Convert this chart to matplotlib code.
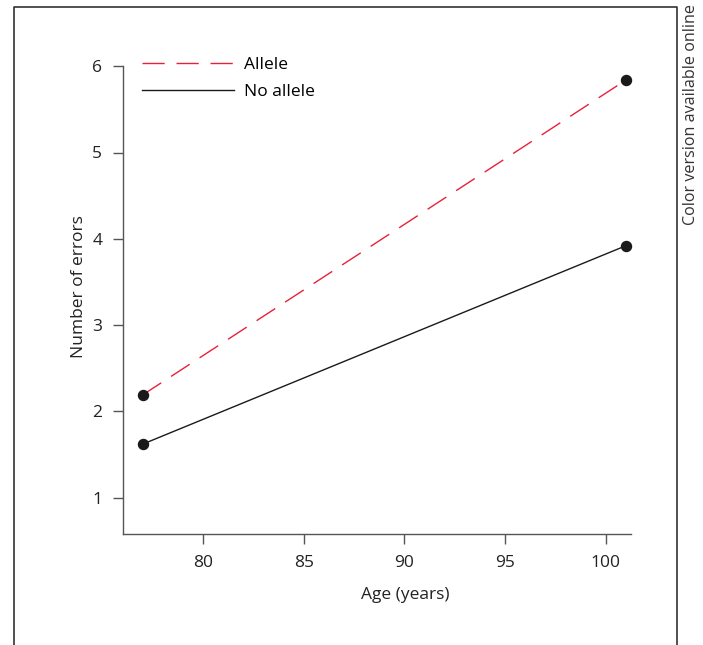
import matplotlib.pyplot as plt
from matplotlib.lines import Line2D

plt.rcParams['font.family'] = ['Open Sans', 'DejaVu Sans']

# Data
age = [77, 101]
allele_errors = [2.19, 5.84]
no_allele_errors = [1.62, 3.92]
x_ticks = [80, 85, 90, 95, 100]
y_ticks = [1, 2, 3, 4, 5, 6]

W, H = 703, 645
fig = plt.figure(figsize=(W / 100, H / 100), dpi=100)
ax = fig.add_axes([123 / W, 1 - 534 / H, (631 - 123) / W, (534 - 40) / H])

grey = '#555555'
ax.plot(age, allele_errors, color='#e8203a', lw=1.0, dashes=(16, 8.5), zorder=2)
ax.plot(age, no_allele_errors, color='#1a1a1a', lw=1.0, zorder=2)
ax.scatter(age, allele_errors, s=52, color='#1a1a1a', zorder=3, clip_on=False)
ax.scatter(age, no_allele_errors, s=52, color='#1a1a1a', zorder=3, clip_on=False)

ylo = 1 - (534 - 497.7) / 86.3
ax.set_xlim(76.03, 101.25)
ax.set_ylim(ylo, 1 + (497.7 - 40) / 86.3)
ax.set_xticks(x_ticks)
ax.set_yticks(y_ticks)
ax.spines['top'].set_visible(False)
ax.spines['right'].set_visible(False)
ax.spines['left'].set_bounds(ylo, 6)
for s in ('left', 'bottom'):
    ax.spines[s].set_color(grey)
    ax.spines[s].set_linewidth(1.0)
ax.tick_params(axis='both', colors=grey, labelcolor='#222222', labelsize=12.5,
               length=7, width=1.0, pad=8)
ax.set_xlabel('Age (years)', fontsize=12.5, color='#222222')
ax.xaxis.set_label_coords((405 - 123) / (631 - 123), -0.108)
ax.set_ylabel('Number of errors', fontsize=12.5, color='#222222', labelpad=4)

handles = [Line2D([], [], color='#e8203a', lw=1.0, dashes=(16, 8.5)),
           Line2D([], [], color='#1a1a1a', lw=1.0)]
ax.legend(handles, ['Allele', 'No allele'], loc='upper left',
          bbox_to_anchor=(135 / W, 1 - 50 / H), bbox_transform=fig.transFigure,
          frameon=False, fontsize=12.5, handlelength=5.3, handletextpad=0.6,
          labelspacing=0.62, borderaxespad=0)

# outer frame (left, top, right)
fx0, fx1, fy = 14 / W, 677 / W, 1 - 7 / H
fig.add_artist(Line2D([fx0, fx0, fx1, fx1], [0, fy, fy, 0], color='#333333',
                      lw=1.2, transform=fig.transFigure))
fig.text(691 / W, 1 - 4 / H, 'Color version available online', rotation=90,
         ha='center', va='top', fontsize=11.6, color='#333333')

fig.savefig('out.png', dpi=100)
